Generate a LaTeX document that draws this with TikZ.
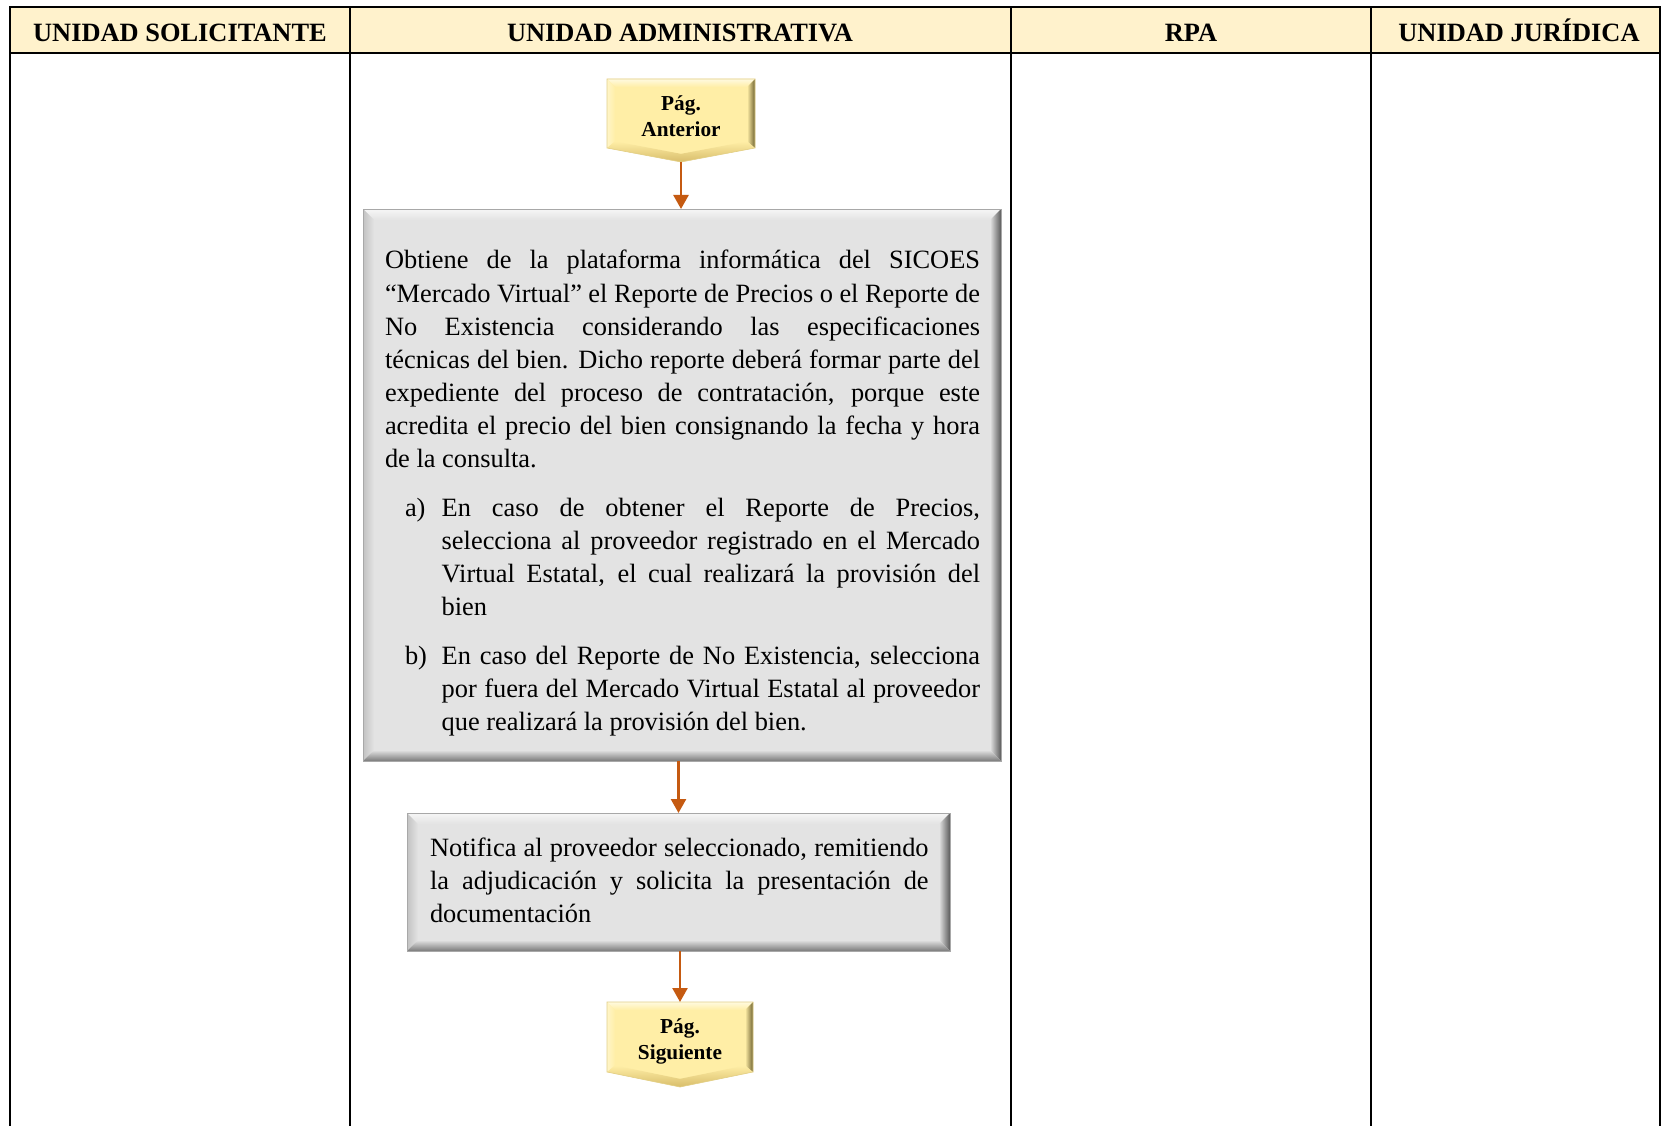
\documentclass[tikz,border=0pt]{standalone}
\usepackage{fontspec}
\setmainfont{Liberation Serif}
\usetikzlibrary{arrows.meta}

\definecolor{headfill}{HTML}{FFF2CC}
\definecolor{flowarrow}{HTML}{C55A11}
\definecolor{boxfill}{HTML}{E3E3E3}
\definecolor{boxlight}{HTML}{F6F6F6}
\definecolor{boxside}{HTML}{C2C2C2}
\definecolor{boxdark}{HTML}{5A5A5A}
\definecolor{boxlow}{HTML}{7A7A7A}
\definecolor{boxedge}{HTML}{A8A8A8}
\definecolor{pagefill}{HTML}{FFEEA6}
\definecolor{pagelight}{HTML}{FFFADF}
\definecolor{pageside}{HTML}{FFF5C8}
\definecolor{pagedark}{HTML}{6E6230}
\definecolor{pagelow}{HTML}{D8BD6A}
\definecolor{pageedge}{HTML}{E2CF88}

\newcommand\bodyfont{\fontsize{26.4pt}{33.1pt}\selectfont}
\newcommand\headfont{\fontsize{26.4pt}{30pt}\selectfont\bfseries}
\newcommand\pagefont{\fontsize{21.3pt}{26pt}\selectfont\bfseries}
% one justified line of a given width
\newcommand\jl[2]{\makebox[#1][s]{#2}}

% bevelled grey process box: x1 y1 x2 y2 (y grows downwards)
\newcommand\greybevel[4]{%
  \def\bvw{11}%
  \fill[boxfill] (#1,#2) rectangle (#3,#4);
  \shade[top color=boxlight,bottom color=boxfill]
    (#1,#2) -- (#3,#2) -- ({#3-\bvw},{#2+\bvw}) -- ({#1+\bvw},{#2+\bvw}) -- cycle;
  \shade[left color=boxside,right color=boxfill]
    (#1,#2) -- ({#1+\bvw},{#2+\bvw}) -- ({#1+\bvw},{#4-\bvw}) -- (#1,#4) -- cycle;
  \shade[left color=boxfill,right color=boxdark]
    (#3,#2) -- (#3,#4) -- ({#3-\bvw},{#4-\bvw}) -- ({#3-\bvw},{#2+\bvw}) -- cycle;
  \shade[top color=boxfill,bottom color=boxlow]
    (#1,#4) -- (#3,#4) -- ({#3-\bvw},{#4-\bvw}) -- ({#1+\bvw},{#4-\bvw}) -- cycle;
  \draw[boxedge,line width=0.8pt] (#1,#2) rectangle (#3,#4);
}

% bevelled off-page connector: x1 y1 x2 y2 (bottom of the sides) tip-y
\newcommand\pagebevel[5]{%
  \pgfmathsetmacro\pbmx{(#1+#3)/2}%
  \pgfmathsetmacro\pbsl{(#5-#4)/(\pbmx-#1)}%
  \pgfmathsetmacro\pbiy{#4-8*sqrt(1+\pbsl*\pbsl)+8*\pbsl}%
  \pgfmathsetmacro\pbip{#5-8*sqrt(1+\pbsl*\pbsl)}%
  \fill[pagefill] (#1,#2) -- (#3,#2) -- (#3,#4) -- (\pbmx,#5) -- (#1,#4) -- cycle;
  \shade[top color=pagelight,bottom color=pagefill]
    (#1,#2) -- (#3,#2) -- ({#3-8},{#2+8}) -- ({#1+8},{#2+8}) -- cycle;
  \shade[left color=pageside,right color=pagefill]
    (#1,#2) -- ({#1+8},{#2+8}) -- ({#1+8},\pbiy) -- (#1,#4) -- cycle;
  \shade[left color=pagefill,right color=pagedark]
    (#3,#2) -- (#3,#4) -- ({#3-8},\pbiy) -- ({#3-8},{#2+8}) -- cycle;
  \shade[top color=pagefill,bottom color=pagelow]
    (#1,#4) -- (\pbmx,#5) -- (\pbmx,\pbip) -- ({#1+8},\pbiy) -- cycle;
  \shade[top color=pagefill,bottom color=pagelow]
    (\pbmx,#5) -- (#3,#4) -- ({#3-8},\pbiy) -- (\pbmx,\pbip) -- cycle;
  \draw[pageedge,line width=0.6pt] (#1,#2) -- (#3,#2) -- (#3,#4) -- (\pbmx,#5) -- (#1,#4) -- cycle;
}

\tikzset{
  lane/.style={line width=2pt, black, line cap=rect},
  headtext/.style={anchor=base, font=\headfont, inner sep=0pt, outer sep=0pt},
  flow/.style={draw=flowarrow, line width=2.5pt, -{Triangle[length=14pt,width=15pt]}},
  framed/.style={anchor=north west, inner sep=0pt, outer sep=0pt},
}

\begin{document}
\begin{tikzpicture}[x=1pt,y=-1pt]
\useasboundingbox (0,0) rectangle (1664,1126);
\fill[white] (0,0) rectangle (1664,1126);

% swimlane header and lane borders
\fill[headfill] (10,7) rectangle (1660,53);
\draw[lane] (10,7) -- (1660,7);
\draw[lane] (10,53) -- (1660,53);
\foreach \lx in {10,350,1011,1371,1660} \draw[lane] (\lx,7) -- (\lx,1126);

\node[headtext] (h1) at (180,41.5) {UNIDAD SOLICITANTE};
\node[headtext] (h2) at (680,41.5) {UNIDAD ADMINISTRATIVA};
\node[headtext] (h3) at (1191,41.5) {RPA};
\node[headtext] (h4) at (1519,41.5) {UNIDAD JURÍDICA};

% previous-page connector
\pagebevel{607}{79}{755}{148}{162}
\node[framed] (ant) at (607,79) {\begin{minipage}[t][83pt][t]{148pt}\centering\pagefont
\vspace*{13.8pt}\strut Pág.\\Anterior\end{minipage}};

% first process box
\greybevel{363}{209}{1001}{761}
\node[framed] (box1) at (363,209) {\begin{minipage}[t][552pt][t]{638pt}\bodyfont
\vspace*{36.8pt}\noindent
\hspace*{22pt}\strut\jl{595pt}{Obtiene de la plataforma informática del SICOES}\\
\hspace*{22pt}\jl{595pt}{“Mercado Virtual” el Reporte de Precios o el Reporte de}\\
\hspace*{22pt}\jl{595pt}{No Existencia considerando las especificaciones}\\
\hspace*{22pt}\jl{595pt}{técnicas del bien. Dicho reporte deberá formar parte del}\\
\hspace*{22pt}\jl{595pt}{expediente del proceso de contratación, porque este}\\
\hspace*{22pt}\jl{595pt}{acredita el precio del bien consignando la fecha y hora}\\
\hspace*{22pt}de la consulta.\\[15.7pt]
\hspace*{42pt}\makebox[36.7pt][l]{a)}\jl{538.3pt}{En caso de obtener el Reporte de Precios,}\\
\hspace*{78.7pt}\jl{538.3pt}{selecciona al proveedor registrado en el Mercado}\\
\hspace*{78.7pt}\jl{538.3pt}{Virtual Estatal, el cual realizará la provisión del}\\
\hspace*{78.7pt}bien\\[15.7pt]
\hspace*{42pt}\makebox[36.7pt][l]{b)}\jl{538.3pt}{En caso del Reporte de No Existencia, selecciona}\\
\hspace*{78.7pt}\jl{538.3pt}{por fuera del Mercado Virtual Estatal al proveedor}\\
\hspace*{78.7pt}que realizará la provisión del bien.
\end{minipage}};

% second process box
\greybevel{407}{813}{950}{951}
\node[framed] (box2) at (407,813) {\begin{minipage}[t][138pt][t]{543pt}\bodyfont
\vspace*{19.83pt}\noindent
\hspace*{23pt}\strut\jl{498.6pt}{Notifica al proveedor seleccionado, remitiendo}\\
\hspace*{23pt}\jl{498.6pt}{la adjudicación y solicita la presentación de}\\
\hspace*{23pt}documentación
\end{minipage}};

% next-page connector
\pagebevel{607}{1002}{753}{1072}{1087}
\node[framed] (sig) at (607,1002) {\begin{minipage}[t][85pt][t]{146pt}\centering\pagefont
\vspace*{13.3pt}\strut Pág.\\Siguiente\end{minipage}};

% flow connectors
\draw[flow] (ant.south) -- (ant.south |- box1.north);
\draw[flow] (box2.north |- box1.south) -- (box2.north);
\draw[flow] (sig.north |- box2.south) -- (sig.north);
\end{tikzpicture}
\end{document}
